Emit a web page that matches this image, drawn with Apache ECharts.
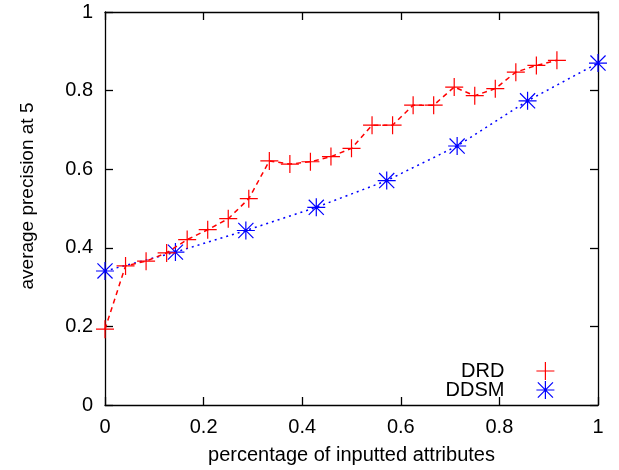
<!DOCTYPE html>
<html>
<head>
<meta charset="utf-8">
<script src="https://cdn.jsdelivr.net/npm/echarts@6/dist/echarts.min.js"></script>
<style>html,body{margin:0;padding:0;background:#fff;}#c{width:619px;height:470px;}</style>
</head>
<body>
<div id="c"></div>
<script>
// DRD: x = k/24, k = 0..22
var drdX = [0,1,2,3,4,5,6,7,8,9,10,11,12,13,14,15,16,17,18,19,20,21,22].map(function(k){return k/24;});
var drdY = [0.193,0.354,0.366,0.387,0.421,0.446,0.474,0.525,0.621,0.613,0.619,0.632,0.653,0.712,0.712,0.763,0.763,0.809,0.787,0.805,0.847,0.864,0.877];
// DDSM: x = k/7, k = 0..7
var ddsmX = [0,1,2,3,4,5,6,7].map(function(k){return k/7;});
var ddsmY = [0.341,0.389,0.444,0.503,0.571,0.659,0.774,0.870];
var xTicks = [0,0.2,0.4,0.6,0.8,1];
var yTicks = [0,0.2,0.4,0.6,0.8,1];
var seriesNames = ['DRD','DDSM'];
var xTitle = 'percentage of inputted attributes';
var yTitle = 'average precision at 5';

function pairs(xs, ys){ return xs.map(function(x,i){return [x, ys[i]];}); }

var plusPath = 'path://M5,0L5,10M0,5L10,5';
var starPath = 'path://M0,5L10,5M5,0L5,10M0.8,0.8L9.2,9.2M9.2,0.8L0.8,9.2';
var font = 'Liberation Sans, Arial, Helvetica, sans-serif';
var fs = 20;

var axisBase = {
  type: 'value', min: 0, max: 1, interval: 0.2,
  axisLine: {show: true, onZero: false, lineStyle: {color: '#000', width: 1.3}},
  axisTick: {show: true, inside: true, length: 8, lineStyle: {color: '#000', width: 1.3}},
  splitLine: {show: false}
};
function ax(extra){ return Object.assign({}, axisBase, extra); }

var chart = echarts.init(document.getElementById('c'));
chart.setOption({
  animation: false,
  backgroundColor: '#fff',
  grid: {left: 105, right: 21, top: 12, bottom: 62, containLabel: false},
  legend: {
    orient: 'vertical', align: 'right', right: 59, top: 356, itemGap: -1,
    itemWidth: 18, itemHeight: 18,
    textStyle: {fontFamily: font, fontSize: fs, color: '#000', padding: [0, 27, 0, 0]},
    data: [
      {name: seriesNames[0], icon: plusPath, itemStyle: {color: 'transparent', borderColor: '#ff0000', borderWidth: 1.2}},
      {name: seriesNames[1], icon: starPath, itemStyle: {color: 'transparent', borderColor: '#0000ff', borderWidth: 1.2}}
    ]
  },
  xAxis: [ax({
    position: 'bottom',
    name: xTitle, nameLocation: 'middle', nameGap: 40,
    nameTextStyle: {fontFamily: font, fontSize: fs, color: '#000'},
    axisLabel: {margin: 12, fontFamily: font, fontSize: fs, color: '#000'}
  }), ax({
    position: 'top', axisLabel: {show: false}
  })],
  yAxis: [ax({
    position: 'left',
    name: yTitle, nameLocation: 'middle', nameGap: 68, nameRotate: 90,
    nameTextStyle: {fontFamily: font, fontSize: 19, color: '#000', padding: [0, 0, 0, 25]},
    axisLabel: {margin: 12, fontFamily: font, fontSize: fs, color: '#000'}
  }), ax({
    position: 'right', axisLabel: {show: false}
  })],
  series: [{
    name: seriesNames[0], type: 'line', data: pairs(drdX, drdY),
    symbol: plusPath, symbolSize: 18,
    itemStyle: {color: 'transparent', borderColor: '#ff0000', borderWidth: 1.2},
    lineStyle: {color: '#ff0000', width: 1.5, type: [5, 4]},
    emphasis: {disabled: true}, z: 3
  }, {
    name: seriesNames[1], type: 'line', data: pairs(ddsmX, ddsmY),
    symbol: starPath, symbolSize: 18,
    itemStyle: {color: 'transparent', borderColor: '#0000ff', borderWidth: 1.2},
    lineStyle: {color: '#0000ff', width: 1.5, type: [2, 4]},
    emphasis: {disabled: true}, z: 2
  }]
});
</script>
</body>
</html>
